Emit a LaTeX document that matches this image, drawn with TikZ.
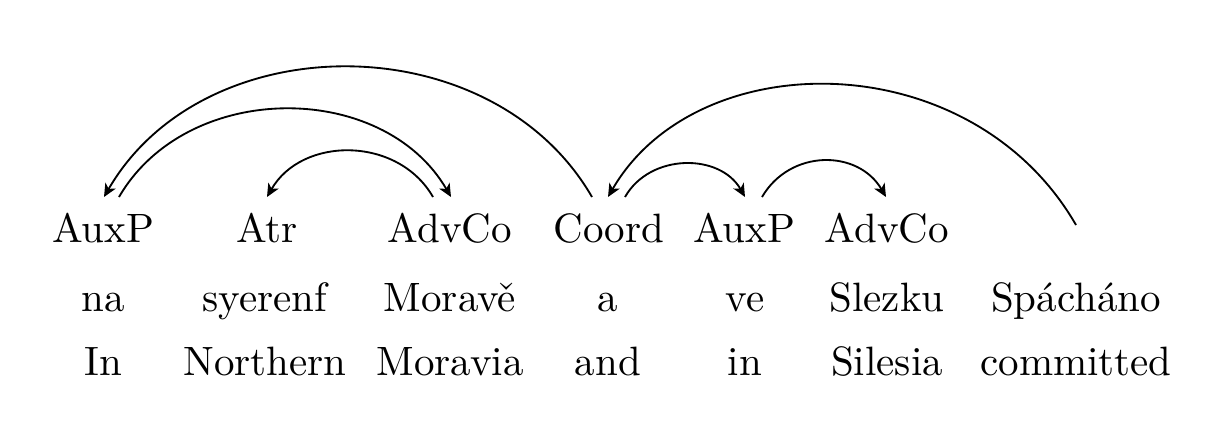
\documentclass[tikz,border=0pt]{standalone}
\usetikzlibrary{arrows.meta}
\begin{document}
\begin{tikzpicture}[x=0.2439pt,y=-0.2439pt,
  word/.style={inner sep=0pt,anchor=base},
  dep/.style={line width=0.45pt,-{Stealth[length=3.2pt,width=2.9pt,inset=0.9pt]}},
  rootdep/.style={line width=0.45pt,{Stealth[length=3.2pt,width=2.9pt,inset=0.9pt]}-}]
\useasboundingbox (0,0) rectangle (1224,428);
% row 1: labels
\node[word] (l1) at (103,242) {AuxP};
\node[word] (l2) at (267,242) {Atr};
\node[word] (l3) at (450,242) {AdvCo};
\node[word] (l4) at (609,242) {Coord};
\node[word] (l5) at (744,242) {AuxP};
\node[word] (l6) at (887,242) {AdvCo};
% row 2: words
\node[word] (w1) at (103,311) {na};
\node[word] (w2) at (265,311) {syerenf};
\node[word] (w3) at (450,311) {Moravě};
\node[word] (w4) at (608,311) {a};
\node[word] (w5) at (745,311) {ve};
\node[word] (w6) at (887,311) {Slezku};
\node[word] (w7) at (1076,311) {Spácháno};
% row 3: glosses
\node[word] (g1) at (103,375.5) {In};
\node[word] (g2) at (265,375.5) {Northern};
\node[word] (g3) at (450,375.5) {Moravia};
\node[word] (g4) at (608,375.5) {and};
\node[word] (g5) at (745,375.5) {in};
\node[word] (g6) at (887,375.5) {Silesia};
\node[word] (g7) at (1076,375.5) {committed};
% anchor points
\coordinate (a1o) at (104,197);
\coordinate (a1i) at (119,197);
\coordinate (a2) at (267,197);
\coordinate (a3o) at (433,197);
\coordinate (a3i) at (451,197);
\coordinate (a4o) at (592,197);
\coordinate (a4c) at (608,197);
\coordinate (a4i) at (625,197);
\coordinate (a5i) at (745,197);
\coordinate (a5o) at (762,197);
\coordinate (a6) at (886,197);
\coordinate (root) at (1076,225);
% arcs
\draw[dep] (a4o) .. controls (492,24) and (204,24) .. (a1o);
\draw[dep] (a1i) .. controls (187,80) and (383,80) .. (a3i);
\draw[dep] (a3o) .. controls (398,136) and (302,136) .. (a2);
\draw[rootdep] (a4c) .. controls (697,43) and (971,43) .. (root);
\draw[dep] (a4i) .. controls (650,153) and (720,153) .. (a5i);
\draw[dep] (a5o) .. controls (790,149) and (858,149) .. (a6);
\end{tikzpicture}
\end{document}
